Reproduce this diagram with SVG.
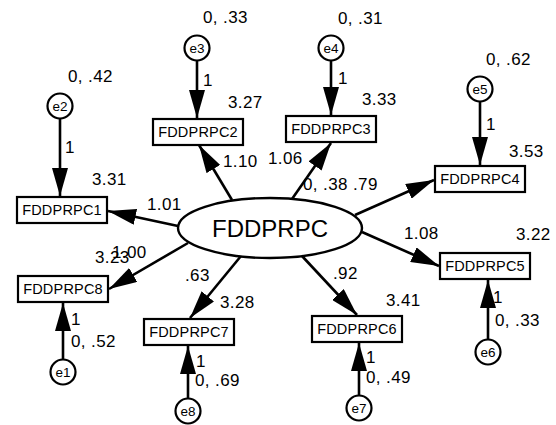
<svg xmlns="http://www.w3.org/2000/svg" width="556" height="425" viewBox="0 0 556 425">
  <style>
    .box { fill: #fff; stroke: #000; stroke-width: 2.2; }
    .err { fill: #fff; stroke: #000; stroke-width: 2.2; }
    .lat { fill: #fff; stroke: #000; stroke-width: 2.4; }
    .edge { stroke: #000; stroke-width: 2.6; fill: none; marker-end: url(#head); }
    .vname { font-family: "Liberation Sans", Arial, sans-serif; font-size: 14.5px; letter-spacing: 0.2px; text-anchor: middle; }
    .ename { font-family: "Liberation Sans", Arial, sans-serif; font-size: 13.5px; text-anchor: middle; }
    .lname { font-family: "Liberation Sans", Arial, sans-serif; font-size: 24px; text-anchor: middle; }
    .num { font-family: "Liberation Sans", Arial, sans-serif; font-size: 17px; letter-spacing: 0.4px; }
  </style>
  <defs>
    <marker id="head" viewBox="0 0 28 16" markerWidth="28" markerHeight="16" refX="28" refY="8" orient="auto" markerUnits="userSpaceOnUse">
      <path d="M0,0 L28,8 L0,16 z" fill="#000"/>
    </marker>
  </defs>
  <rect width="556" height="425" fill="#fff"/>

  <!-- paths -->
  <g id="connectors">
    <!-- error terms to indicators -->
    <line class="edge" x1="60" y1="118" x2="60" y2="196"/>
    <line class="edge" x1="197" y1="60" x2="197" y2="118"/>
    <line class="edge" x1="331" y1="60" x2="331" y2="115"/>
    <line class="edge" x1="480" y1="101" x2="480" y2="165"/>
    <line class="edge" x1="488" y1="340" x2="488" y2="280"/>
    <line class="edge" x1="359" y1="396" x2="359" y2="343"/>
    <line class="edge" x1="188" y1="399" x2="188" y2="346"/>
    <line class="edge" x1="63" y1="360" x2="63" y2="303"/>
    <!-- latent factor to indicators -->
    <line class="edge" x1="178" y1="226" x2="108" y2="211"/>
    <line class="edge" x1="232" y1="200" x2="199" y2="145"/>
    <line class="edge" x1="292" y1="199" x2="331" y2="143"/>
    <line class="edge" x1="355" y1="215" x2="434" y2="180"/>
    <line class="edge" x1="362" y1="232" x2="439" y2="266"/>
    <line class="edge" x1="302" y1="256" x2="357" y2="315"/>
    <line class="edge" x1="241" y1="256" x2="190" y2="318"/>
    <line class="edge" x1="188" y1="243" x2="109" y2="289"/>
  </g>

  <g id="FDDPRPC">
    <ellipse class="lat" cx="270" cy="228" rx="92" ry="30"/>
    <text class="lname" x="270" y="237">FDDPRPC</text>
  </g>

  <g id="FDDPRPC1"><rect class="box" x="17" y="197" width="90" height="26"/><text class="vname" x="62" y="215">FDDPRPC1</text></g>
  <g id="FDDPRPC2"><rect class="box" x="153" y="119" width="90" height="26"/><text class="vname" x="198" y="137">FDDPRPC2</text></g>
  <g id="FDDPRPC3"><rect class="box" x="286" y="116" width="90" height="26"/><text class="vname" x="331" y="134">FDDPRPC3</text></g>
  <g id="FDDPRPC4"><rect class="box" x="435" y="166" width="90" height="26"/><text class="vname" x="480" y="184">FDDPRPC4</text></g>
  <g id="FDDPRPC5"><rect class="box" x="440" y="253" width="90" height="26"/><text class="vname" x="485" y="271">FDDPRPC5</text></g>
  <g id="FDDPRPC6"><rect class="box" x="312" y="316" width="90" height="26"/><text class="vname" x="357" y="334">FDDPRPC6</text></g>
  <g id="FDDPRPC7"><rect class="box" x="144" y="319" width="90" height="26"/><text class="vname" x="189" y="337">FDDPRPC7</text></g>
  <g id="FDDPRPC8"><rect class="box" x="18" y="276" width="90" height="26"/><text class="vname" x="63" y="294">FDDPRPC8</text></g>

  <g id="e1"><circle class="err" cx="63" cy="372" r="12.5"/><text class="ename" x="63" y="377">e1</text></g>
  <g id="e2"><circle class="err" cx="60" cy="106" r="12.5"/><text class="ename" x="60" y="111">e2</text></g>
  <g id="e3"><circle class="err" cx="197" cy="48" r="12.5"/><text class="ename" x="197" y="53">e3</text></g>
  <g id="e4"><circle class="err" cx="331" cy="48" r="12.5"/><text class="ename" x="331" y="53">e4</text></g>
  <g id="e5"><circle class="err" cx="480" cy="89" r="12.5"/><text class="ename" x="480" y="94">e5</text></g>
  <g id="e6"><circle class="err" cx="488" cy="352" r="12.5"/><text class="ename" x="488" y="357">e6</text></g>
  <g id="e7"><circle class="err" cx="359" cy="408" r="12.5"/><text class="ename" x="359" y="413">e7</text></g>
  <g id="e8"><circle class="err" cx="188" cy="411" r="12.5"/><text class="ename" x="188" y="416">e8</text></g>

  <!-- estimates -->
  <g id="estimates" class="num">
    <text x="68" y="82">0, .42</text>
    <text x="65" y="153">1</text>
    <text x="92" y="185">3.31</text>
    <text x="147" y="210">1.01</text>
    <text x="203" y="23">0, .33</text>
    <text x="203" y="86">1</text>
    <text x="228" y="108">3.27</text>
    <text x="223" y="167">1.10</text>
    <text x="268" y="164">1.06</text>
    <text x="303" y="190">0, .38</text>
    <text x="353" y="190">.79</text>
    <text x="338" y="24">0, .31</text>
    <text x="338" y="84">1</text>
    <text x="362" y="105">3.33</text>
    <text x="486" y="65">0, .62</text>
    <text x="486" y="130">1</text>
    <text x="509" y="157">3.53</text>
    <text x="404" y="239">1.08</text>
    <text x="516" y="240">3.22</text>
    <text x="493" y="303">1</text>
    <text x="495" y="326">0, .33</text>
    <text x="333" y="279">.92</text>
    <text x="386" y="306">3.41</text>
    <text x="366" y="363">1</text>
    <text x="366" y="383">0, .49</text>
    <text x="95" y="263">3.23</text>
    <text x="112" y="258">1.00</text>
    <text x="185" y="281">.63</text>
    <text x="220" y="308">3.28</text>
    <text x="71" y="325">1</text>
    <text x="71" y="347">0, .52</text>
    <text x="196" y="367">1</text>
    <text x="195" y="386">0, .69</text>
  </g>
</svg>
